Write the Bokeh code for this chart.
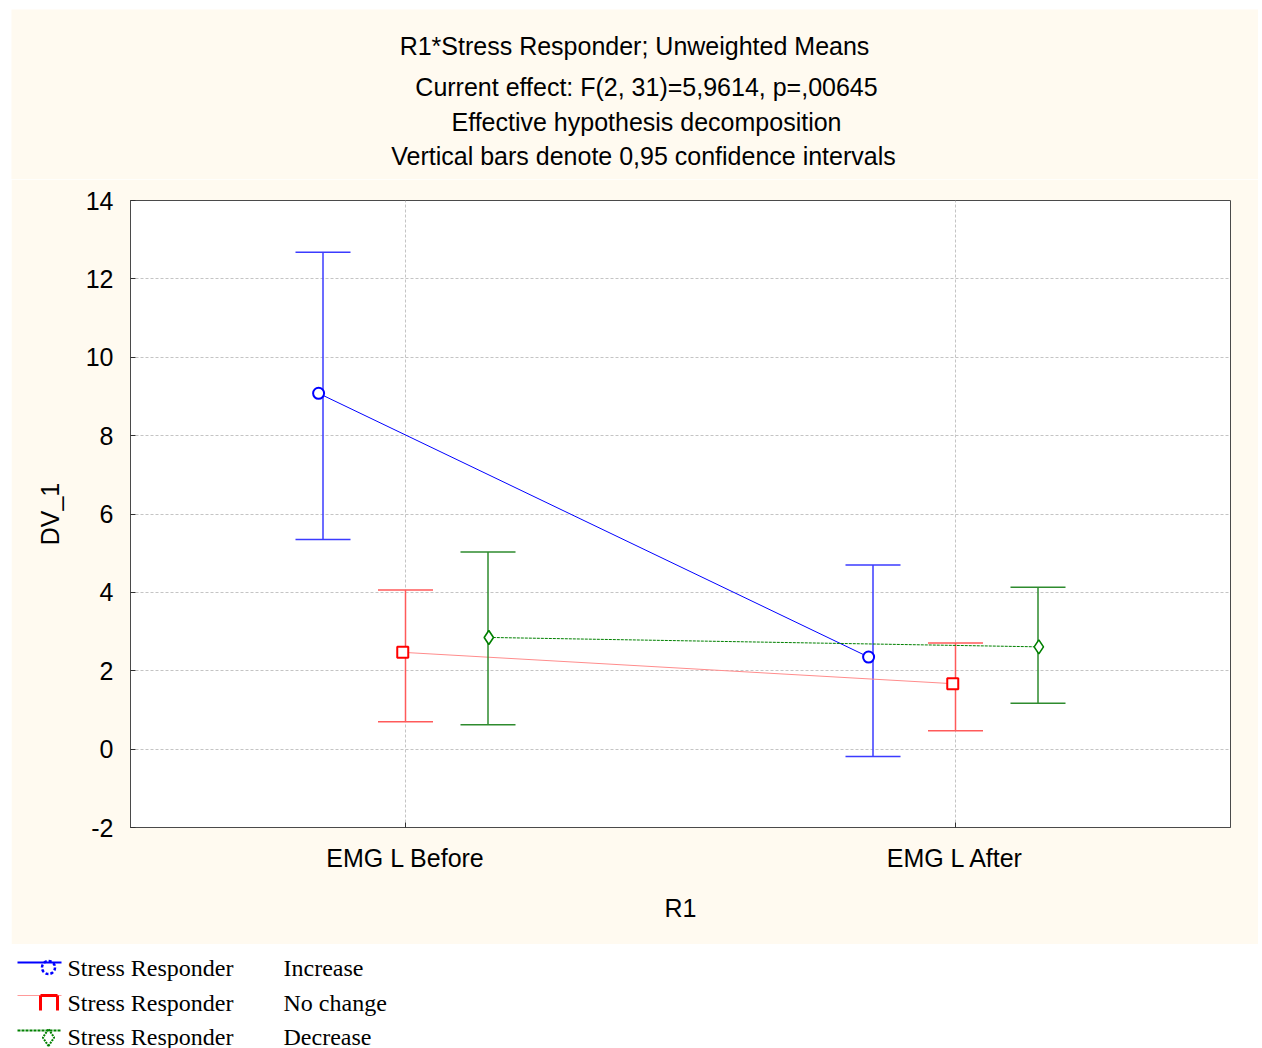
from bokeh.plotting import figure
from bokeh.models import FixedTicker, Range1d, ColumnDataSource, Spacer
from bokeh.layouts import column, row
from bokeh.embed import file_html
from bokeh.resources import INLINE
from bokeh.core.properties import value

# ---------------- data ----------------
categories = ["EMG L Before", "EMG L After"]
groups = ["Increase", "No change", "Decrease"]
means_increase = [9.08, 2.35]
lower_increase = [5.35, -0.19]
upper_increase = [12.68, 4.70]
means_nochange = [2.47, 1.67]
lower_nochange = [0.70, 0.47]
upper_nochange = [4.06, 2.71]
means_decrease = [2.85, 2.61]
lower_decrease = [0.62, 1.17]
upper_decrease = [5.03, 4.13]
y_ticks = [-2, 0, 2, 4, 6, 8, 10, 12, 14]
title_lines = [
    "R1*Stress Responder; Unweighted Means",
    "Current effect: F(2, 31)=5,9614, p=,00645",
    "Effective hypothesis decomposition",
    "Vertical bars denote 0,95 confidence intervals",
]
legend_prefix = "Stress Responder"

# ---------------- styles / layout ----------------
SANS = "Liberation Sans"
SERIF = "Liberation Serif"
BEIGE = "#FFFAF0"
bar_colors = ["#3B3BFF", "#FF5A5A", "#2E8B2E"]
line_colors = ["#0000FF", "#FF8C8C", "#008000"]
marker_colors = ["#0000FF", "#FF0000", "#008000"]
line_dashes = ["solid", "solid", "3 1"]
markers = ["circle", "square", "diamond"]
marker_sizes = [11, 11, 14]
offsets = [-0.3, 0.0, 0.3]
marker_shift = [-0.016, -0.01, 0.003]
cap_half = 0.1
# title text centres, page pixels
title_cx = [634, 646, 646, 643]
title_cy = [45, 86, 121, 155]

series = [
    (means_increase, lower_increase, upper_increase),
    (means_nochange, lower_nochange, upper_nochange),
    (means_decrease, lower_decrease, upper_decrease),
]
base_x = [2 * i + 1 for i in range(len(categories))]

# ---------------- title panel (page pixel coordinates) ----------------
TOP_H = 170
tf = figure(width=1247, height=TOP_H, output_backend="svg", toolbar_location=None,
            x_range=Range1d(11, 1258), y_range=Range1d(9 + TOP_H, 9),
            min_border=0, x_axis_location=None, y_axis_location=None,
            background_fill_color=BEIGE, border_fill_color=BEIGE)
tf.frame_align = False
tf.outline_line_color = None
tf.grid.visible = False
tf.text(x=title_cx, y=title_cy, text=title_lines, text_font=value(SANS),
        text_font_size="25px", text_align="center", text_baseline="middle",
        text_color="black")

# ---------------- main plot ----------------
p = figure(width=1247, height=935 - TOP_H, output_backend="svg", toolbar_location=None,
           x_range=Range1d(0, 4), y_range=Range1d(-2, 14),
           min_border_left=119, min_border_right=28, min_border_top=200 - 9 - TOP_H,
           min_border_bottom=117, background_fill_color="white",
           border_fill_color=BEIGE)
p.frame_align = False
p.outline_line_color = "#4A4A4A"
p.outline_line_width = 1

for gi, (m, lo, up) in enumerate(series):
    xs = [b + offsets[gi] for b in base_x]
    xm = [x + marker_shift[gi] for x in xs]
    src = ColumnDataSource(dict(x=xs, xm=xm, m=m, lo=lo, up=up,
                                cl=[x - cap_half for x in xs],
                                cr=[x + cap_half for x in xs]))
    p.line("xm", "m", source=src, color=line_colors[gi], line_width=1,
           line_dash=line_dashes[gi])
    p.segment("x", "lo", "x", "up", source=src, color=bar_colors[gi], line_width=1.5)
    p.segment("cl", "up", "cr", "up", source=src, color=bar_colors[gi], line_width=1.5)
    p.segment("cl", "lo", "cr", "lo", source=src, color=bar_colors[gi], line_width=1.5)
    p.scatter("xm", "m", source=src, marker=markers[gi], size=marker_sizes[gi],
              fill_color="white", line_color=marker_colors[gi],
              line_width=2 if gi < 2 else 1.6)

p.xaxis.ticker = FixedTicker(ticks=base_x)
p.xaxis.major_label_overrides = {b: c for b, c in zip(base_x, categories)}
p.yaxis.ticker = FixedTicker(ticks=y_ticks)
p.yaxis.major_label_overrides = {t: str(t) for t in y_ticks}
for ax in (p.xaxis[0], p.yaxis[0]):
    ax.axis_line_color = "#4A4A4A"
    ax.major_tick_line_color = "#303030"
    ax.major_tick_in = 5
    ax.major_tick_out = 0
    ax.minor_tick_line_color = None
    ax.major_label_text_font = SANS
    ax.major_label_text_font_size = "25px"
    ax.major_label_text_color = "black"
    ax.axis_label_text_font = SANS
    ax.axis_label_text_font_size = "25px"
    ax.axis_label_text_font_style = "normal"
    ax.axis_label_text_color = "black"
    ax.major_label_standoff = 17
p.xaxis.axis_label = "R1"
p.yaxis.axis_label = "DV_1"
p.xaxis.major_label_standoff = 16
p.xaxis.axis_label_standoff = 19
p.yaxis.axis_label_standoff = 19
p.grid.grid_line_color = "#C4C4C4"
p.grid.grid_line_dash = "3 2"
p.grid.grid_line_width = 1

# ---------------- legend panel (page pixel coordinates) ----------------
lg = figure(width=1262, height=104, output_backend="svg", toolbar_location=None,
            x_range=Range1d(0, 1262), y_range=Range1d(1048, 944),
            min_border=0, x_axis_location=None, y_axis_location=None,
            background_fill_color="white", border_fill_color="white")
lg.frame_align = False
lg.outline_line_color = None
lg.grid.visible = False

row_y = [967, 1002, 1036]
# blue sample
lg.segment(17, row_y[0] - 5, 61, row_y[0] - 5, color="#0000FF", line_width=2)
lg.scatter([48], [row_y[0]], marker="circle", size=13, fill_color=None,
           line_color="#0000FF", line_width=2.5, line_dash="3 2")
# red sample
lg.segment(17, row_y[1] - 7, 61, row_y[1] - 7, color="#FF9A9A", line_width=1)
lg.segment([40, 40, 57], [row_y[1] - 7, row_y[1] - 7, row_y[1] - 7],
           [57, 40, 57], [row_y[1] - 7, row_y[1] + 8, row_y[1] + 8],
           color="#FF0000", line_width=3)
# green sample
lg.segment(17, row_y[2] - 6, 61, row_y[2] - 6, color="#008000", line_width=2,
           line_dash="3 1")
lg.scatter([48], [row_y[2] + 1], marker="diamond", size=17, fill_color=None,
           line_color="#008000", line_width=2, line_dash="2 1")

lg.text(x=[67] * 3, y=row_y, text=[legend_prefix] * 3, text_font=value(SERIF),
        text_font_size="24px", text_baseline="middle", text_color="black")
lg.text(x=[283] * 3, y=row_y, text=groups, text_font=value(SERIF),
        text_font_size="24px", text_baseline="middle", text_color="black")

layout = column(Spacer(width=1262, height=9),
                row(Spacer(width=11, height=TOP_H), tf, spacing=0),
                row(Spacer(width=11, height=935 - TOP_H), p, spacing=0),
                lg, spacing=0)
open("out.html", "w").write(file_html(layout, INLINE))
